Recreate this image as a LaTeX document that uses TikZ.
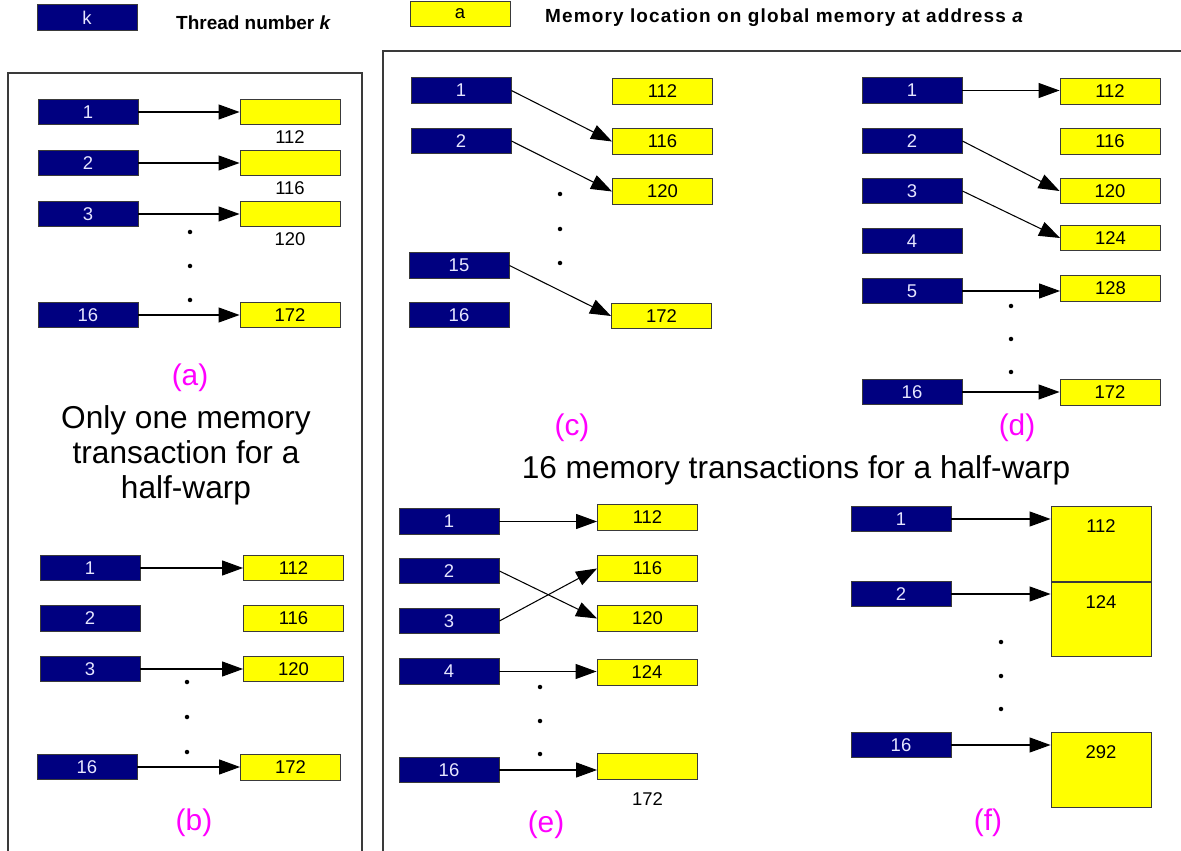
\documentclass[tikz,border=0pt]{standalone}
\usepackage{fontspec}
\setmainfont{Liberation Sans}
\usetikzlibrary{arrows.meta,positioning}
\definecolor{threadFill}{HTML}{000080}
\definecolor{threadText}{HTML}{E6E6FF}
\definecolor{memFill}   {HTML}{FFFF00}
\definecolor{boxEdge}   {HTML}{3A3A3A}
\definecolor{tagPink}   {HTML}{FF00FF}

\begin{document}
\begin{tikzpicture}[x=0.02cm, y=-0.02cm,
        every node/.style={font=\fontsize{10.5}{12}\selectfont},
        thr/.style={draw=boxEdge, line width=0.5pt, fill=threadFill, text=threadText, minimum width=2cm, minimum height=0.51cm, inner sep=0pt},
        mem/.style={draw=boxEdge, line width=0.5pt, fill=memFill, minimum width=2cm, minimum height=0.51cm, inner sep=0pt},
        memtall/.style={mem, minimum height=1.5cm},
        addr/.style={inner sep=1pt},
        tag/.style={text=tagPink, font=\fontsize{17}{20}\selectfont},
        note/.style={font=\fontsize{18}{19.9}\selectfont, align=center},
        legend/.style={font=\fontsize{10.8}{13}\selectfont\bfseries, anchor=west},
        frame/.style={draw=boxEdge, line width=0.8pt},
        ar/.style={-{Triangle[length=0.42cm, width=0.3cm]}, line width=0.6pt}
    ]
    \useasboundingbox (0,0) rectangle (1181,851);

    % legend
    \node[thr] (keyk) at (87,17.5) {k};
    \node[legend] (keyktxt) at (170,23) {Thread number \textit{k}};
    \node[mem] (keya) at (460,14) {a};
    \node[legend] (keyatxt) at (539,18) {\addfontfeatures{LetterSpace=6}Memory location on global memory at address \textit{a}};

    % frames
    \draw[frame] (8,851) -- (8,73) -- (362,73) -- (362,851);
    \draw[frame] (383,851) -- (383,51) -- (1181,51);

    % (a)
    \node[thr] (a1) at (88,112) {1};
    \node[thr] (a2) at (88,163) {2};
    \node[thr] (a3) at (88,214) {3};
    \node[thr] (a16) at (88,315) {16};
    \node[mem] (am1) at (290,112) {};
    \node[mem] (am2) at (290,163) {};
    \node[mem] (am3) at (290,214) {};
    \node[mem] (am16) at (290,315) {172};
    \node[addr, below=0.06cm of am1] (am1t) {112};
    \node[addr, below=0.06cm of am2] (am2t) {116};
    \node[addr, below=0.06cm of am3] (am3t) {120};
    \draw[ar] (a1) -- (am1);
    \draw[ar] (a2) -- (am2);
    \draw[ar] (a3) -- (am3);
    \draw[ar] (a16) -- (am16);
    \fill (190,232) circle (0.045cm) (190,266) circle (0.045cm) (190,300) circle (0.045cm);
    \node[tag] (taga) at (190,378) {(a)};
    \node[note] (onetr) at (186,455) {Only one memory\\transaction for a\\half-warp};

    % (b)
    \node[thr] (b1) at (90,568) {1};
    \node[thr] (b2) at (90,618.5) {2};
    \node[thr] (b3) at (90,669) {3};
    \node[thr] (b16) at (87,767) {16};
    \node[mem] (bm1) at (293.5,568) {112};
    \node[mem] (bm2) at (293.5,618.5) {116};
    \node[mem] (bm3) at (293.5,669) {120};
    \node[mem] (bm16) at (290.5,767.5) {172};
    \draw[ar] (b1) -- (bm1);
    \draw[ar] (b3) -- (bm3);
    \draw[ar] (b16.east) -- (b16.east -| bm16.west);
    \fill (187,682) circle (0.045cm) (187,717) circle (0.045cm) (187,752) circle (0.045cm);
    \node[tag] (tagb) at (194,823) {(b)};

    % (c)
    \node[thr] (c1) at (461,90.5) {1};
    \node[thr] (c2) at (461,141) {2};
    \node[thr] (c15) at (459,265.5) {15};
    \node[thr] (c16) at (459,315) {16};
    \node[mem] (cm1) at (662.5,91.5) {112};
    \node[mem] (cm2) at (662.5,141.5) {116};
    \node[mem] (cm3) at (662.5,191.5) {120};
    \node[mem] (cm16) at (661.5,316) {172};
    \draw[ar] (c1.east) -- (cm2.west);
    \draw[ar] (c2.east) -- (cm3.west);
    \draw[ar] (c15.east) -- (cm16.west);
    \fill (560,194) circle (0.045cm) (560,229) circle (0.045cm) (560,263) circle (0.045cm);
    \node[tag] (tagc) at (572,428) {(c)};

    % (d)
    \node[thr] (d1) at (912,90.5) {1};
    \node[thr] (d2) at (912,141) {2};
    \node[thr] (d3) at (912,191) {3};
    \node[thr] (d4) at (912,241) {4};
    \node[thr] (d5) at (912,291) {5};
    \node[thr] (d16) at (912,392) {16};
    \node[mem] (dm1) at (1110,91.5) {112};
    \node[mem] (dm2) at (1110,141.5) {116};
    \node[mem] (dm3) at (1110,191) {120};
    \node[mem] (dm4) at (1110.5,238) {124};
    \node[mem] (dm5) at (1110.5,288.5) {128};
    \node[mem] (dm16) at (1110,392.5) {172};
    \draw[ar] (d1.east) -- (d1.east -| dm1.west);
    \draw[ar] (d2.east) -- (dm3.west);
    \draw[ar] (d3.east) -- (dm4.west);
    \draw[ar] (d5.east) -- (d5.east -| dm5.west);
    \draw[ar] (d16.east) -- (d16.east -| dm16.west);
    \fill (1011,306) circle (0.045cm) (1011,339) circle (0.045cm) (1011,372) circle (0.045cm);
    \node[tag] (tagd) at (1017,428) {(d)};

    \node[note] (sixteentr) at (796,470) {16 memory transactions for a half-warp};

    % (e)
    \node[thr] (e1) at (449,521.5) {1};
    \node[thr] (e2) at (449,571) {2};
    \node[thr] (e3) at (449,621) {3};
    \node[thr] (e4) at (449,671.5) {4};
    \node[thr] (e16) at (449,770) {16};
    \node[mem] (em1) at (647.5,517.5) {112};
    \node[mem] (em2) at (647.5,568.5) {116};
    \node[mem] (em3) at (647.5,618.5) {120};
    \node[mem] (em4) at (647,672.5) {124};
    \node[mem] (em16) at (647.5,766.5) {};
    \node[addr, below=0.22cm of em16] (em16t) {172};
    \draw[ar] (e1.east) -- (e1.east -| em1.west);
    \draw[ar] (e2.east) -- (em3.west);
    \draw[ar] (e3.east) -- (em2.west);
    \draw[ar] (e4.east) -- (e4.east -| em4.west);
    \draw[ar] (e16.east) -- (e16.east -| em16.west);
    \fill (540,687) circle (0.045cm) (540,721) circle (0.045cm) (540,754) circle (0.045cm);
    \node[tag] (tage) at (546,825) {(e)};

    % (f)
    \node[thr] (f1) at (901,519) {1};
    \node[thr] (f2) at (901,594) {2};
    \node[thr] (f16) at (901,745) {16};
    \node[memtall, label={[anchor=north, yshift=-0.15cm]north:112}] (fm1) at (1101,544) {};
    \node[memtall, minimum height=1.48cm, label={[anchor=north, yshift=-0.15cm]north:124}] (fm2) at (1101,619) {};
    \node[memtall, label={[anchor=north, yshift=-0.15cm]north:292}] (fm3) at (1101,770) {};
    \draw[ar] (f1.east) -- (f1.east -| fm1.west);
    \draw[ar] (f2.east) -- (f2.east -| fm2.west);
    \draw[ar] (f16.east) -- (f16.east -| fm3.west);
    \fill (1001,642) circle (0.045cm) (1001,676) circle (0.045cm) (1001,709) circle (0.045cm);
    \node[tag] (tagf) at (988,823) {(f)};
\end{tikzpicture}
\end{document}
